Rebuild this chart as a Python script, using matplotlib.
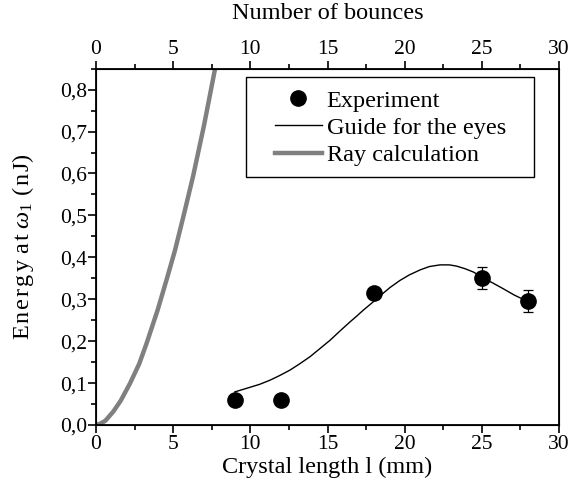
import matplotlib
matplotlib.use("Agg")
import matplotlib.pyplot as plt
from matplotlib.ticker import MultipleLocator, FuncFormatter
from matplotlib.lines import Line2D
from matplotlib.patches import Rectangle

# Data
exp_x = [9, 12, 18, 25, 28]
exp_y = [0.060, 0.060, 0.314, 0.350, 0.296]
exp_err = [0.0, 0.0, 0.0, 0.026, 0.027]

guide_x = [9.0, 9.98, 10.6, 11.28, 11.9, 12.57, 13.2, 13.87, 14.5, 15.16, 15.8, 16.46,
           16.9, 17.32, 17.97, 18.4, 19.05, 19.7, 20.3, 21.0, 21.6, 22.29, 22.9, 23.37,
           23.9, 24.45, 24.99, 25.7, 26.39, 27.1, 27.9, 28.0]
guide_y = [0.079, 0.090, 0.097, 0.107, 0.118, 0.131, 0.146, 0.163, 0.182, 0.202, 0.224, 0.246,
           0.260, 0.274, 0.294, 0.308, 0.328, 0.345, 0.358, 0.370, 0.378, 0.382, 0.382, 0.379,
           0.373, 0.365, 0.353, 0.339, 0.325, 0.310, 0.296, 0.294]

ray_x = [0, 0.26, 0.6, 1.12, 1.6, 2.2, 2.8, 3.28, 4.0, 4.6, 5.12, 5.7, 6.3, 7.0, 7.71, 7.85]
ray_y = [0, 0.003, 0.010, 0.032, 0.058, 0.099, 0.146, 0.195, 0.275, 0.350, 0.417, 0.503,
         0.595, 0.715, 0.849, 0.875]

plt.rcParams['font.family'] = ['Liberation Serif', 'DejaVu Serif']
plt.rcParams['mathtext.fontset'] = 'custom'
plt.rcParams['mathtext.rm'] = 'Liberation Serif'
plt.rcParams['mathtext.it'] = 'Liberation Serif:italic'

W, H = 569, 487
fig = plt.figure(figsize=(W/100, H/100), dpi=100)
ax = fig.add_axes([96/W, 62/H, 463/W, 356.3/H])

def ax_frac(px, py):
    return (px - 96) / 463, (425 - py) / 356.3

gray = '#808080'
ax.plot(ray_x, ray_y, color=gray, lw=3.2, solid_capstyle='butt', zorder=2)
ax.plot(guide_x, guide_y, color='black', lw=1.0, zorder=3)
ax.errorbar(exp_x, exp_y, yerr=exp_err, fmt='o', color='black', ms=11,
            ecolor='black', elinewidth=0.9, capsize=3.5, capthick=0.9, zorder=4)

ax.set_xlim(0, 30)
ax.set_ylim(0, 0.85)
ax.xaxis.set_major_locator(MultipleLocator(5))
ax.xaxis.set_minor_locator(MultipleLocator(2.5))
ax.yaxis.set_major_locator(MultipleLocator(0.1))
ax.yaxis.set_minor_locator(MultipleLocator(0.05))
ax.yaxis.set_major_formatter(FuncFormatter(lambda v, p: f"{v:.1f}".replace('.', ',')))
ax.tick_params(axis='both', which='major', direction='out', length=6, width=1.2, labelsize=15.5)
ax.tick_params(axis='both', which='minor', direction='out', length=3.5, width=1.2)
ax.tick_params(axis='x', pad=1)
ax.tick_params(axis='y', pad=0.5)
ax.tick_params(right=False, which='both')
for s in ax.spines.values():
    s.set_linewidth(1.3)

ax.set_xlabel('Crystal length l (mm)', fontsize=17.5, labelpad=2)
ax.set_ylabel('E\u200an\u200ae\u200ar\u200ag\u200ay a\u200at ' + r'$\omega_1$' + ' (\u200an\u200aJ)',
              fontsize=17.5, labelpad=17)

ax2 = ax.twiny()
ax2.set_xlim(0, 30)
ax2.xaxis.set_major_locator(MultipleLocator(5))
ax2.xaxis.set_minor_locator(MultipleLocator(2.5))
ax2.tick_params(axis='x', which='major', direction='out', length=6, width=1.2, labelsize=15.5, pad=1)
ax2.tick_params(axis='x', which='minor', direction='out', length=3.5, width=1.2)
ax2.set_xlabel('Number of bounces', fontsize=17.5, labelpad=15)

# legend frame
x0, y0 = ax_frac(246, 177)
x1, y1 = ax_frac(534, 77.3)
ax.add_patch(Rectangle((x0, y0), x1 - x0, y1 - y0, transform=ax.transAxes,
                       fill=True, facecolor='white', edgecolor='black', lw=1.0, zorder=5))

handles = [
    Line2D([], [], marker='o', ls='none', color='black', ms=11),
    Line2D([], [], color='black', lw=1.0),
    Line2D([], [], color=gray, lw=3.2),
]
labels = ['Experiment', 'Guide for the eyes', 'Ray calculation']
lx, ly = ax_frac(275, 89.5)
leg = ax.legend(handles, labels, loc='upper left', bbox_to_anchor=(lx, ly),
                fontsize=17.5, frameon=False, handlelength=1.93, handletextpad=0.2,
                borderaxespad=0, labelspacing=0.22, borderpad=0)
leg.set_zorder(6)

fig.savefig('out.png', dpi=100)
